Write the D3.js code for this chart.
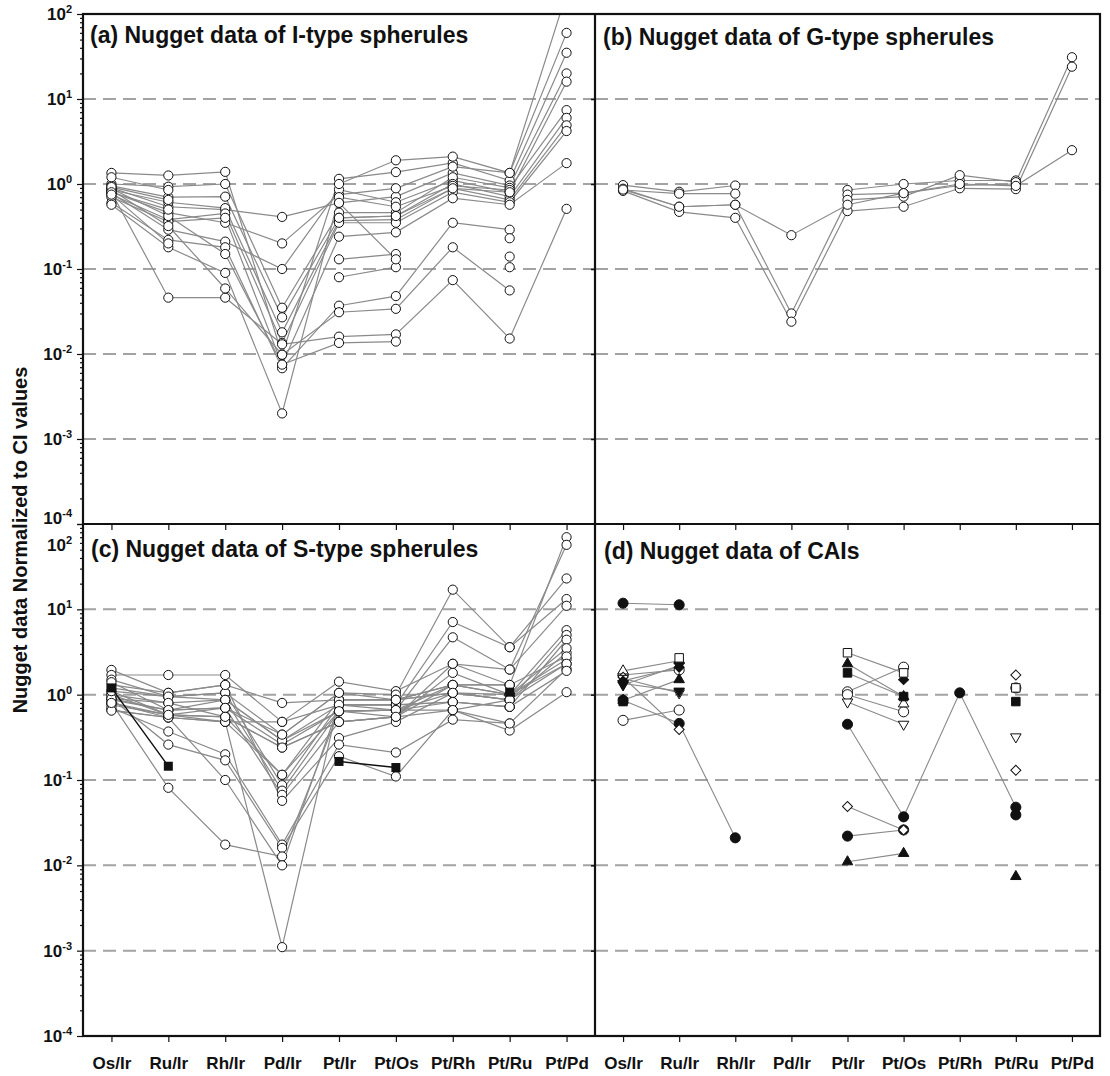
<!DOCTYPE html>
<html>
<head>
<meta charset="utf-8" />
<script src="https://cdn.jsdelivr.net/npm/d3@7"></script>
<style>
  body { margin: 0; background: #fff; }
  text { font-family: "Liberation Sans", Arial, sans-serif; font-weight: bold; fill: #111; }
</style>
</head>
<body>
<div id="chart"></div>
<script>
// ratio categories on the x axis
const categories = ["Os/Ir", "Ru/Ir", "Rh/Ir", "Pd/Ir", "Pt/Ir", "Pt/Os", "Pt/Rh", "Pt/Ru", "Pt/Pd"];
// decades of the log axis (tick labels 10^n)
const powers = [-4, -3, -2, -1, 0, 1, 2];
const gridPowers = [-3, -2, -1, 0, 1];
const panelTitles = [
    "(a) Nugget data of I-type spherules",
    "(b) Nugget data of G-type spherules",
    "(c) Nugget data of S-type spherules",
    "(d) Nugget data of CAIs"
];
const yTitle = "Nugget data Normalized to CI values";

// (a) I-type spherules, one row per nugget (null = not measured)
const iType = [
    [1.35, 1.26, 1.39, 0.0098, 1.15, 1.38, 1.77, 1.10, 35],
    [0.90, 0.54, 0.50, 0.41, 0.60, 0.71, 1.35, 0.96, 20],
    [0.80, 0.46, 0.35, 0.20, 0.75, 0.89, 1.60, 1.35, 175],
    [0.78, 0.29, 0.21, 0.10, 0.86, 0.61, 1.10, 0.80, 16],
    [1.00, 0.93, 1.00, 0.035, 0.46, 0.46, 1.20, 0.90, 7.4],
    [0.95, 0.70, 0.71, 0.027, 0.40, 0.42, 1.00, 0.71, 6.0],
    [0.85, 0.61, 0.52, 0.018, 0.37, 0.38, 0.89, 0.65, 4.9],
    [0.75, 0.38, 0.45, 0.0135, 0.35, 0.35, 0.80, 0.61, 4.2],
    [0.70, 0.36, 0.40, 0.0075, 0.24, 0.27, 0.68, 0.57, 1.76],
    [0.60, 0.22, 0.18, 0.0068, 0.037, 0.048, 0.35, 0.29, null],
    [0.57, 0.18, 0.09, 0.002, 0.70, 0.54, 0.95, 0.85, null],
    [0.80, 0.046, 0.046, 0.013, 0.016, 0.017, 0.074, 0.0152, 0.51],
    [0.85, 0.32, 0.059, 0.0098, 0.031, 0.034, 0.18, 0.056, null],
    [0.88, 0.42, 0.15, 0.0075, 0.0135, 0.014, null, null, null],
    [1.20, 0.85, null, null, 1.00, 1.90, 2.10, 1.35, 60],
    [0.92, 0.65, null, null, 0.13, 0.15, null, 0.14, null],
    [0.80, 0.50, null, null, 0.08, 0.105, null, 0.105, null],
    [0.75, 0.20, null, null, 0.60, 0.13, null, 0.23, null],
    [null, null, null, null, 0.40, 0.42, 0.89, 0.80, null]
];

// (b) G-type spherules
const gType = [
    [0.97, 0.81, 0.96, null, 0.85, 1.00, 1.10, 1.10, null],
    [0.85, 0.77, 0.77, null, 0.75, 0.78, 0.96, 1.00, null],
    [0.88, 0.54, 0.57, 0.030, 0.65, 0.71, 1.27, 1.05, 31],
    [0.83, 0.47, 0.40, 0.024, 0.48, 0.54, 0.89, 0.87, 24],
    [0.86, 0.54, 0.57, 0.25, 0.57, 0.78, 1.00, 0.95, 2.5]
];

// (c) S-type spherules
const sType = [
    [1.95, 1.05, 1.30, 0.80, 0.87, 0.87, 1.30, 1.30, 70],
    [1.70, 1.70, 1.70, 0.48, 1.42, 1.10, 2.30, 1.97, 57],
    [1.50, 0.95, 1.05, 0.34, 1.05, 1.00, 17, 3.6, 23],
    [1.00, 0.80, 0.87, 0.29, 0.76, 0.76, 7.1, 3.6, 13.2],
    [0.87, 0.66, 0.70, 0.26, 0.64, 0.66, 4.7, 1.97, 11],
    [0.76, 0.58, 0.55, 0.24, 0.48, 0.55, 1.80, 1.00, 5.7],
    [0.66, 0.54, 0.48, 0.115, 0.87, 0.87, 1.05, 0.87, 5.0],
    [1.10, 0.95, 1.05, 0.087, 0.76, 0.76, 0.82, 0.72, 4.4],
    [0.90, 0.66, 0.87, 0.075, 0.64, 0.66, 0.66, 0.87, 3.1],
    [0.80, 0.58, 0.70, 0.067, 0.48, 0.55, 1.30, 1.00, 2.6],
    [1.30, 1.05, 1.30, 0.057, 0.31, 0.48, 1.05, 1.00, 2.3],
    [0.70, 0.37, 0.20, 0.0175, 0.26, 0.21, 0.51, 0.46, 2.0],
    [0.90, 0.26, 0.17, 0.016, 0.19, 0.11, 0.66, 0.38, 1.07],
    [0.80, 0.081, 0.0175, 0.0127, 0.64, 0.66, 1.05, 0.87, null],
    [0.65, 0.54, 0.10, 0.010, 0.76, 0.76, 0.82, 0.72, null],
    [1.00, 0.58, 0.48, 0.0011, 0.87, 0.87, 1.30, 1.30, null],
    [1.20, 0.95, 0.87, 0.29, 0.64, 0.66, 1.30, 1.00, 3.5],
    [0.90, 0.80, 0.55, 0.24, 0.48, 0.55, 2.30, 1.30, 2.8],
    [1.40, 0.66, 0.70, 0.34, 1.05, 0.87, 1.05, 0.87, 2.3],
    [0.80, 0.54, 0.48, 0.48, 0.76, 0.66, 0.82, 0.72, 1.9],
    [1.10, 0.58, 0.55, 0.115, 0.64, 0.55, 0.66, 0.46, null]
];
// (c) the one nugget drawn with filled squares
const sTypeFilled = [1.20, 0.145, null, null, 0.165, 0.14, null, 1.07, null];

// (d) CAIs, one row per nugget; marker kind in caiMarkers
const caiValues = [
    [11.8, 11.3, null, null, null, null, null, null, null],
    [0.86, 0.46, 0.021, null, 0.45, 0.037, 1.05, 0.048, null],
    [null, null, null, null, 0.022, 0.026, null, 0.039, null],
    [0.50, 0.66, null, null, 1.08, 2.10, null, null, null],
    [1.70, 1.95, null, null, 1.00, 0.63, null, 1.20, null],
    [1.90, 2.50, null, null, null, 0.78, null, null, null],
    [1.60, 0.39, null, null, 0.049, 0.026, null, 0.13, null],
    [null, null, null, null, null, null, null, 1.70, null],
    [1.55, 1.05, null, null, 0.82, 0.45, null, 0.32, null],
    [1.45, 2.10, null, null, null, 1.50, null, null, null],
    [1.30, 2.20, null, null, null, null, null, null, null],
    [1.35, 1.10, null, null, null, null, null, null, null],
    [0.86, 1.50, null, null, 2.30, 0.95, null, null, null],
    [null, null, null, null, 0.011, 0.0138, null, 0.0074, null],
    [0.83, null, null, null, 1.80, 0.95, null, 0.83, null],
    [null, 2.70, null, null, 3.10, 1.80, null, 1.20, null]
];
const caiMarkers = [
    "circle-filled", "circle-filled", "circle-filled", "circle-open", "circle-open",
    "triangle-open", "diamond-open", "diamond-open", "triangledown-open", "diamond-filled",
    "triangledown-filled", "triangledown-filled", "triangle-filled", "triangle-filled",
    "square-filled", "square-open"
];

// ---------- layout ----------
var width = 1110, height = 1076;
var L = 83, M = 595, R = 1100, T = 14, MID = 524, B = 1036;

var svg = d3.select('#chart').append('svg')
    .attr('width', width).attr('height', height);

var xLeft = d3.scalePoint().domain(categories).range([L, M]).padding(0.5);
var xRight = d3.scalePoint().domain(categories).range([M, R]).padding(0.5);
var yTop = d3.scaleLog().domain([1e-4, 1e2]).range([MID, T]);
var yBot = d3.scaleLog().domain([1e-4, 1e2]).range([B, MID]);

var panels = [
    { x: xLeft, y: yTop, x0: L, x1: M, y0: T, y1: MID, tx: 90, ty: 43 },
    { x: xRight, y: yTop, x0: M, x1: R, y0: T, y1: MID, tx: 603, ty: 45 },
    { x: xLeft, y: yBot, x0: L, x1: M, y0: MID, y1: B, tx: 91, ty: 557 },
    { x: xRight, y: yBot, x0: M, x1: R, y0: MID, y1: B, tx: 604, ty: 559 }
];

var defs = svg.append('defs');
panels.forEach(function (p, i) {
    defs.append('clipPath').attr('id', 'clip' + i)
        .append('rect')
        .attr('x', p.x0).attr('y', p.y0)
        .attr('width', p.x1 - p.x0).attr('height', p.y1 - p.y0);
});

// dashed grid lines
panels.forEach(function (p) {
    svg.append('g').selectAll('line')
        .data(gridPowers).enter().append('line')
        .attr('x1', p.x0).attr('x2', p.x1)
        .attr('y1', function (d) { return p.y(Math.pow(10, d)); })
        .attr('y2', function (d) { return p.y(Math.pow(10, d)); })
        .attr('stroke', '#a3a3a3').attr('stroke-width', 2)
        .attr('stroke-dasharray', '13,7');
});

function rows(values) {
    return values.map(function (v, i) { return { c: categories[i], v: v }; });
}

function drawSeries(p, idx, seriesList, opts) {
    var g = svg.append('g').attr('clip-path', 'url(#clip' + idx + ')');
    var line = d3.line()
        .defined(function (d) { return d.v != null; })
        .x(function (d) { return p.x(d.c); })
        .y(function (d) { return p.y(d.v); });
    seriesList.forEach(function (s) {
        g.append('path').datum(rows(s))
            .attr('d', line)
            .attr('fill', 'none')
            .attr('stroke', opts.lineColor || '#8a8a8a')
            .attr('stroke-width', opts.lineWidth || 1.2);
    });
    return g;
}

function drawCircles(g, p, seriesList) {
    seriesList.forEach(function (s) {
        g.append('g').selectAll('circle')
            .data(rows(s).filter(function (d) { return d.v != null; }))
            .enter().append('circle')
            .attr('cx', function (d) { return p.x(d.c); })
            .attr('cy', function (d) { return p.y(d.v); })
            .attr('r', 4.6)
            .attr('fill', '#fff').attr('stroke', '#111').attr('stroke-width', 1);
    });
}

// (a)
var ga = drawSeries(panels[0], 0, iType, {});
drawCircles(ga, panels[0], iType);
// (b)
var gb = drawSeries(panels[1], 1, gType, {});
drawCircles(gb, panels[1], gType);
// (c)
var gc = drawSeries(panels[2], 2, sType, {});
drawSeries(panels[2], 2, [sTypeFilled], { lineColor: '#111', lineWidth: 1.4 });
drawCircles(gc, panels[2], sType);
gc.append('g').selectAll('rect')
    .data(rows(sTypeFilled).filter(function (d) { return d.v != null; }))
    .enter().append('rect')
    .attr('x', function (d) { return panels[2].x(d.c) - 4.5; })
    .attr('y', function (d) { return panels[2].y(d.v) - 4.5; })
    .attr('width', 9).attr('height', 9)
    .attr('fill', '#111');

// (d)
var gd = drawSeries(panels[3], 3, caiValues, { lineColor: '#8a8a8a', lineWidth: 1.1 });
var symbolTypes = {
    circle: [d3.symbolCircle, 80, 0],
    triangle: [d3.symbolTriangle, 48, 0],
    triangledown: [d3.symbolTriangle, 48, 180],
    square: [d3.symbolSquare, 72, 0],
    diamond: [d3.symbolSquare, 50, 45]
};
caiValues.forEach(function (s, i) {
    var parts = caiMarkers[i].split('-');
    var st = symbolTypes[parts[0]];
    var filled = parts[1] === 'filled';
    gd.append('g').selectAll('path')
        .data(rows(s).filter(function (d) { return d.v != null; }))
        .enter().append('path')
        .attr('d', d3.symbol().type(st[0]).size(st[1]))
        .attr('transform', function (d) {
            return 'translate(' + panels[3].x(d.c) + ',' + panels[3].y(d.v) + ') rotate(' + st[2] + ')';
        })
        .attr('fill', filled ? '#111' : '#fff')
        .attr('stroke', '#111').attr('stroke-width', 1);
});

// ---------- axes ----------
function minorValues() {
    var out = [];
    for (var e = -4; e < 2; e++) {
        for (var k = 2; k <= 9; k++) out.push(k * Math.pow(10, e));
    }
    return out;
}
[yTop, yBot].forEach(function (y, i) {
    var major = d3.axisLeft(y).tickValues(powers.map(function (p) { return Math.pow(10, p); }))
        .tickSize(6).tickFormat('');
    var minor = d3.axisLeft(y).tickValues(minorValues()).tickSize(3).tickFormat('');
    [major, minor].forEach(function (ax) {
        var g = svg.append('g').attr('transform', 'translate(' + L + ',0)').call(ax);
        g.select('.domain').remove();
        g.selectAll('line').attr('stroke', '#111').attr('stroke-width', 1.2);
    });
    var g2 = svg.append('g').attr('transform', 'translate(' + M + ',0)')
        .call(d3.axisLeft(y).tickValues(gridPowers.map(function (p) { return Math.pow(10, p); }))
            .tickSize(4).tickFormat(''));
    g2.select('.domain').remove();
    g2.selectAll('line').attr('stroke', '#111').attr('stroke-width', 1.5);

    // tick labels 10^n
    var labels = svg.append('g');
    powers.forEach(function (p) {
        var shift = 0;
        if (i === 0 && p === -4) shift = -6;
        if (i === 1 && p === 2) shift = 21;
        var t = labels.append('text')
            .attr('x', L - 11)
            .attr('y', y(Math.pow(10, p)) + 6 + shift)
            .attr('text-anchor', 'end')
            .style('font-size', '17px');
        t.append('tspan').text('10');
        t.append('tspan').attr('dy', -7).style('font-size', '11px').text(p);
    });
});

[[xLeft, MID], [xRight, MID], [xLeft, B], [xRight, B]].forEach(function (a) {
    var g = svg.append('g').attr('transform', 'translate(0,' + a[1] + ')')
        .call(d3.axisBottom(a[0]).tickSize(6).tickPadding(15)
            .tickFormat(a[1] === B ? null : ''));
    g.select('.domain').remove();
    g.selectAll('line').attr('stroke', '#111').attr('stroke-width', 1.2);
    g.selectAll('text').attr('fill', '#111').style('font-size', '17px')
        .style('font-family', '"Liberation Sans", Arial, sans-serif').style('font-weight', 'bold');
});

// frame
var frame = svg.append('g').attr('stroke', '#111').attr('stroke-width', 2.2).attr('fill', 'none');
frame.append('rect').attr('x', L).attr('y', T).attr('width', R - L).attr('height', B - T);
frame.append('line').attr('x1', L).attr('x2', R).attr('y1', MID).attr('y2', MID);
frame.append('line').attr('x1', M).attr('x2', M).attr('y1', T).attr('y2', B);

// titles
panels.forEach(function (p, i) {
    svg.append('text').attr('x', p.tx).attr('y', p.ty)
        .style('font-size', '23px').text(panelTitles[i]);
});
svg.append('text')
    .attr('transform', 'translate(27,' + 540 + ') rotate(-90)')
    .attr('text-anchor', 'middle')
    .style('font-size', '20px')
    .text(yTitle);
</script>
</body>
</html>
